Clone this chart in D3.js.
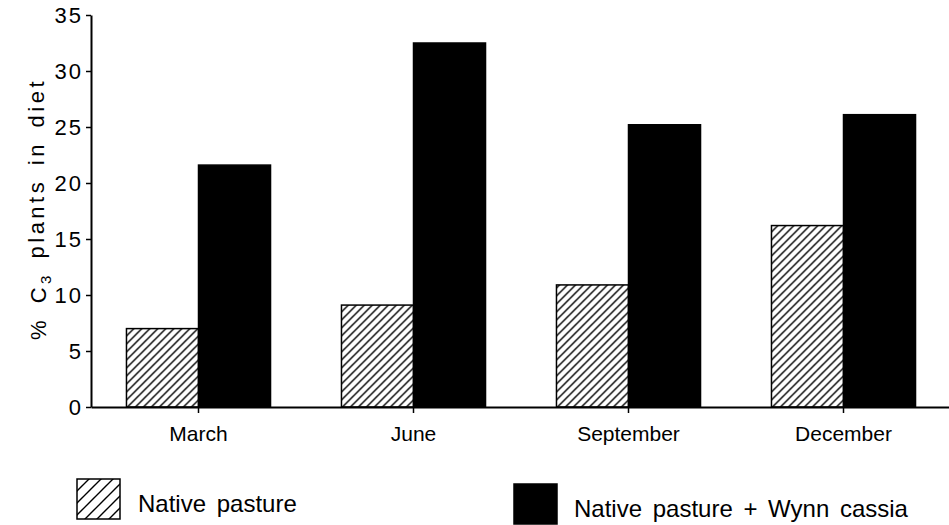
<html>
<head>
<meta charset="utf-8">
<script src="https://cdnjs.cloudflare.com/ajax/libs/d3/7.8.5/d3.min.js"></script>
<style>
  body { margin: 0; background: #fff; }
  text { font-family: "Liberation Sans", Arial, Helvetica, sans-serif; fill: #000; }
</style>
</head>
<body>
<div id="container"></div>
<script>
// Data
var months = ["March", "June", "September", "December"];
var nativePasture = [7.0, 9.1, 10.9, 16.2];        // hatched bars
var nativeWynn = [21.6, 32.5, 25.2, 26.1];         // black bars
var seriesNames = ["Native pasture", "Native pasture + Wynn cassia"];
var yTicks = [0, 5, 10, 15, 20, 25, 30, 35];

var w = 949, h = 525;
var plotLeft = 91, plotRight = 951, plotTop = 15, plotBottom = 407;

var svg = d3.select("#container").append("svg")
    .attr("width", w)
    .attr("height", h);

// hatch patterns
var defs = svg.append("defs");
function hatch(id, s) {
  defs.append("pattern")
      .attr("id", id)
      .attr("patternUnits", "userSpaceOnUse")
      .attr("width", s).attr("height", s)
    .append("path")
      .attr("d", "M" + (-s / 4) + "," + (s / 4) + " l" + (s / 2) + "," + (-s / 2) +
                 " M0," + s + " l" + s + "," + (-s) +
                 " M" + (s * 3 / 4) + "," + (s * 5 / 4) + " l" + (s / 2) + "," + (-s / 2))
      .attr("stroke", "#000")
      .attr("stroke-width", 1.4);
}
hatch("hatchBar", 8);
hatch("hatchKey", 12);

// scales
var x0 = d3.scaleBand()
    .domain(months)
    .range([plotLeft, plotRight])
    .paddingInner(0.33)
    .paddingOuter(0.165);

var x1 = d3.scaleBand()
    .domain(seriesNames)
    .range([0, x0.bandwidth()]);

var y = d3.scaleLinear()
    .domain([0, 35])
    .range([plotBottom, plotTop]);

var rows = months.map(function(m, i) {
  return { month: m, values: [nativePasture[i], nativeWynn[i]] };
});

// bars
var groups = svg.selectAll("g.month")
    .data(rows)
    .enter()
    .append("g")
    .attr("class", "month")
    .attr("transform", function(d) { return "translate(" + x0(d.month) + ",0)"; });

groups.selectAll("rect")
    .data(function(d) {
      return d.values.map(function(v, j) { return { key: seriesNames[j], value: v, j: j }; });
    })
    .enter()
    .append("rect")
    .attr("x", function(d) { return x1(d.key); })
    .attr("width", x1.bandwidth())
    .attr("y", function(d) { return y(d.value); })
    .attr("height", function(d) { return plotBottom - y(d.value); })
    .attr("fill", function(d) { return d.j === 0 ? "url(#hatchBar)" : "#000"; })
    .attr("stroke", "#000")
    .attr("stroke-width", 1.5);

// y axis
var yAxis = svg.append("g")
    .attr("transform", "translate(" + plotLeft + ",0)")
    .call(d3.axisLeft(y).tickValues(yTicks).tickSize(5).tickSizeOuter(0).tickPadding(3));
yAxis.select(".domain").attr("stroke-width", 2);
yAxis.selectAll(".tick line").attr("stroke-width", 1.5);
yAxis.selectAll("text")
    .style("font-size", "22px")
    .attr("letter-spacing", "2px")
    .attr("dy", "0.36em");

// x axis
var xAxis = svg.append("g")
    .attr("transform", "translate(0," + plotBottom + ")")
    .call(d3.axisBottom(x0).tickSize(6).tickSizeOuter(0).tickPadding(0));
xAxis.select(".domain").attr("stroke-width", 2);
xAxis.selectAll(".tick line").attr("stroke-width", 1.5);
xAxis.selectAll("text")
    .style("font-size", "21px")
    .attr("y", 34)
    .attr("dy", 0);

// y axis title
var title = svg.append("text")
    .attr("transform", "translate(46," + ((plotTop + plotBottom) / 2 - 2) + ") rotate(-90)")
    .attr("text-anchor", "middle")
    .attr("letter-spacing", "3.5px")
    .attr("word-spacing", "4px")
    .style("font-size", "22px");
title.append("tspan").text("% C");
title.append("tspan").text("3").style("font-size", "15px").attr("dy", "0.35em");
title.append("tspan").text(" plants in diet").attr("dy", "-0.35em");

// legend
var keyX = [77, 514];
var keyY = [479, 484];
var keys = svg.selectAll("g.key")
    .data(seriesNames)
    .enter()
    .append("g")
    .attr("class", "key")
    .attr("transform", function(d, i) { return "translate(" + keyX[i] + "," + keyY[i] + ")"; });

keys.append("rect")
    .attr("width", 43)
    .attr("height", 40)
    .attr("fill", function(d, i) { return i === 0 ? "url(#hatchKey)" : "#000"; })
    .attr("stroke", "#000")
    .attr("stroke-width", 1.5);

keys.append("text")
    .attr("x", function(d, i) { return i === 0 ? 61 : 60; })
    .attr("y", 33)
    .attr("word-spacing", "4px")
    .style("font-size", "24px")
    .text(function(d) { return d; });
</script>
</body>
</html>
